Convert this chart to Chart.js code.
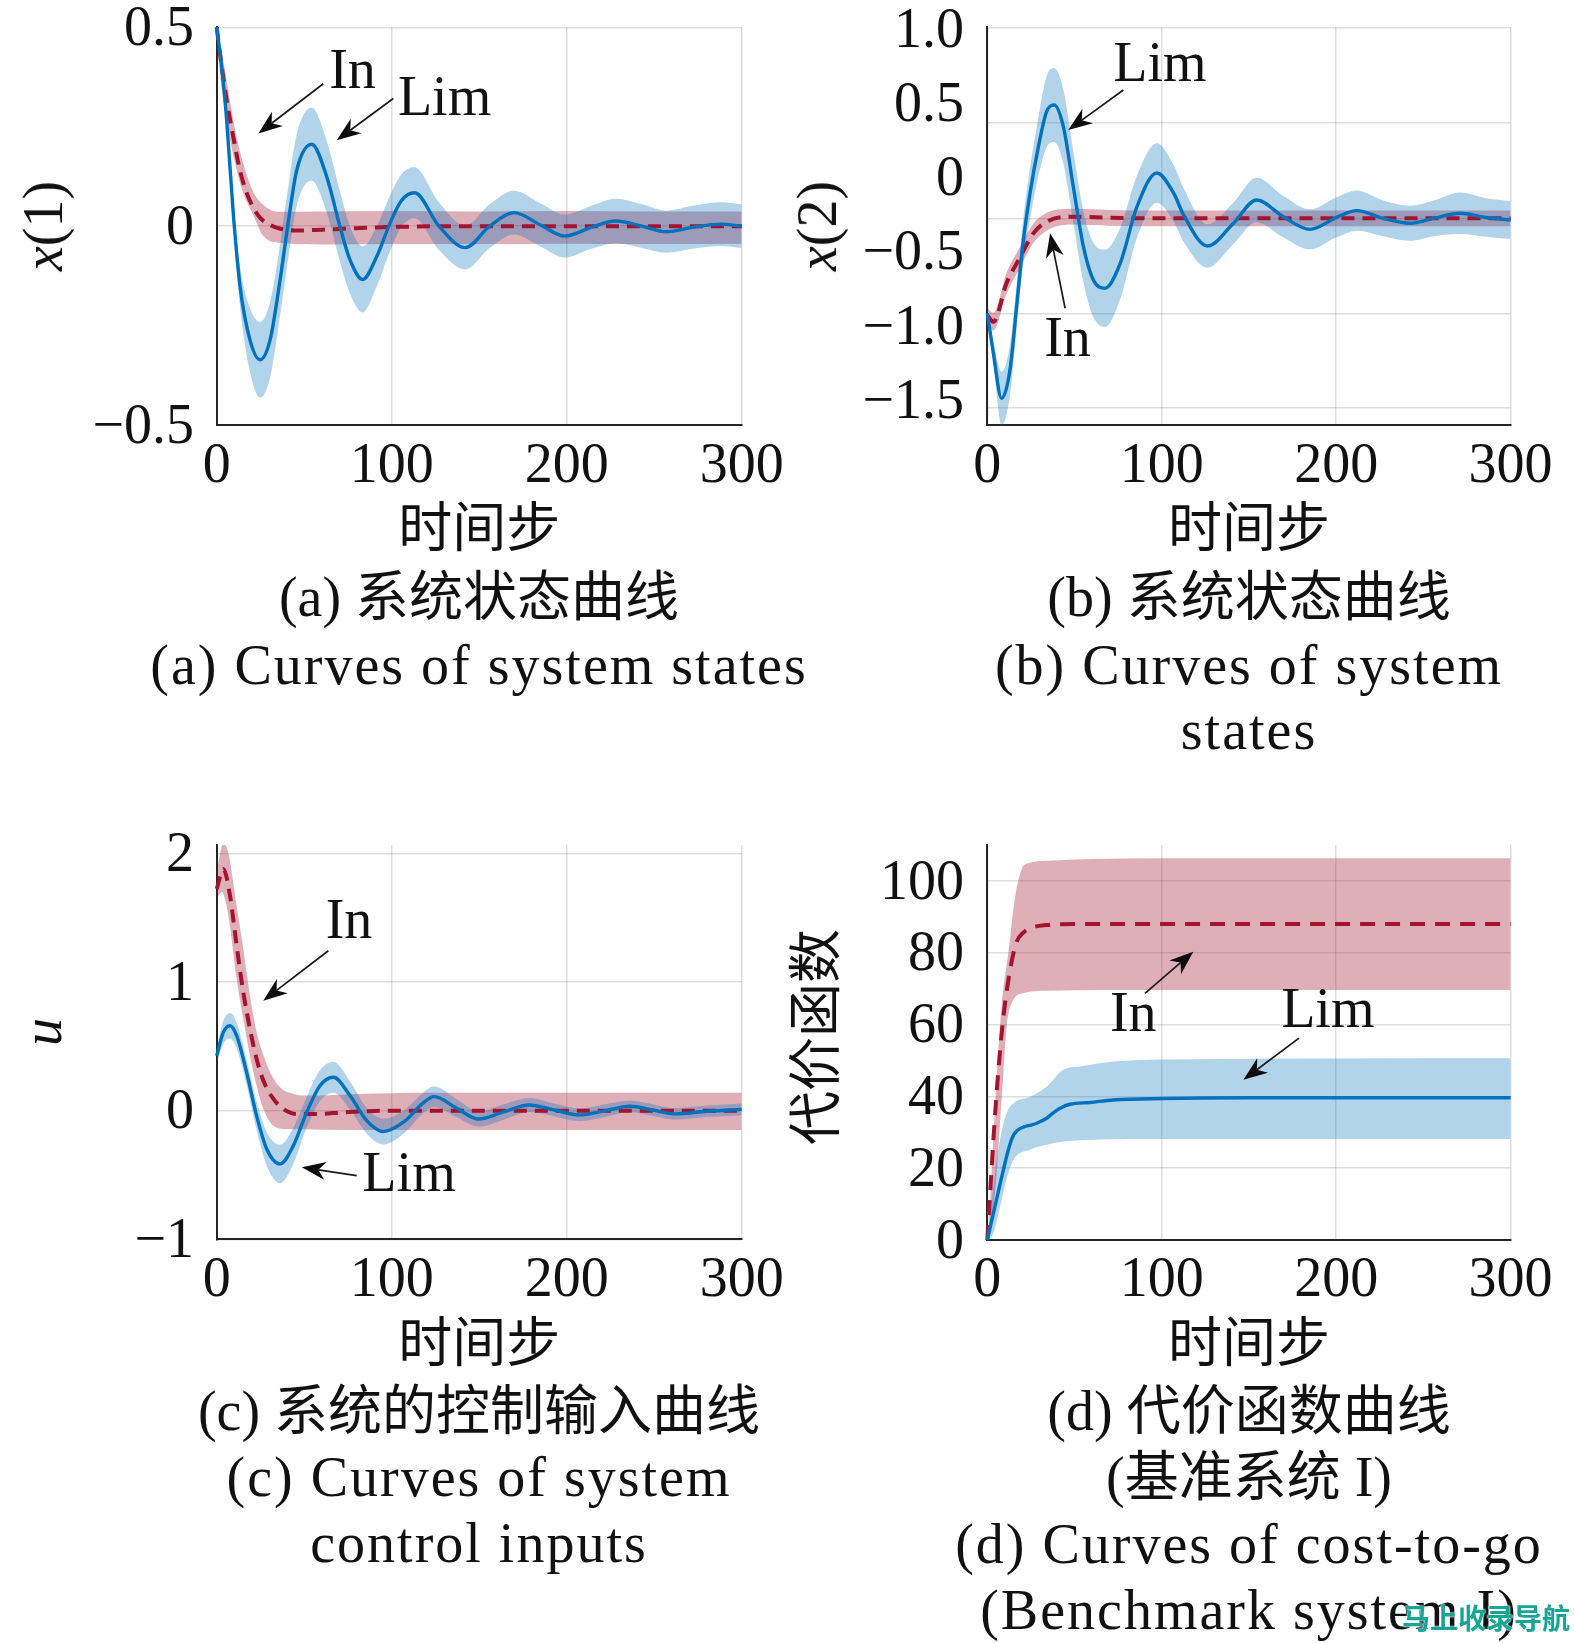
<!DOCTYPE html>
<html>
<head>
<meta charset="utf-8">
<script src="https://cdn.jsdelivr.net/npm/chart.js@4.4.1/dist/chart.umd.min.js"></script>
<style>
html,body{margin:0;padding:0;background:#fff;}
body{width:1575px;height:1643px;position:relative;overflow:hidden;}
.pane{position:absolute;}
.pane canvas{display:block;}
.cap{position:absolute;width:900px;text-align:center;white-space:nowrap;font-family:"Liberation Serif",serif;font-size:56px;line-height:56px;color:#111;}
.zh{font-family:"Noto Sans CJK SC",sans-serif;font-size:54px;}
.en{letter-spacing:2px;}
.ytitle{position:absolute;transform:translate(-50%,-50%) rotate(-90deg);white-space:nowrap;font-family:"Liberation Serif",serif;font-size:56px;line-height:56px;color:#111;}
.ytitle.zhT{font-family:"Noto Sans CJK SC",sans-serif;font-size:54px;}
.wm{position:absolute;left:1402px;top:1600px;font-family:"Noto Sans CJK SC",sans-serif;font-weight:700;font-size:28px;line-height:34px;color:#17a596;text-shadow:0 0 2px #fff,0 0 2px #fff;}
</style>
</head>
<body>
<div class="pane" style="left:0px;top:0px;"><canvas id="ca" width="790" height="570"></canvas></div>
<div class="pane" style="left:790px;top:0px;"><canvas id="cb" width="785" height="570"></canvas></div>
<div class="pane" style="left:0px;top:800px;"><canvas id="cc" width="790" height="580"></canvas></div>
<div class="pane" style="left:790px;top:800px;"><canvas id="cd" width="785" height="580"></canvas></div>

<div class="ytitle" style="left:43px;top:226px;"><i>x</i>(1)</div>
<div class="ytitle" style="left:817px;top:226px;"><i>x</i>(2)</div>
<div class="ytitle" style="left:42px;top:1032px;"><i>u</i></div>
<div class="ytitle zhT" style="left:812px;top:1037px;">代价函数</div>

<div class="cap" style="left:29px;top:565px;">(a) <span class="zh">系统状态曲线</span></div>
<div class="cap en" style="left:29px;top:637px;">(a) Curves of system states</div>
<div class="cap" style="left:799px;top:565px;">(b) <span class="zh">系统状态曲线</span></div>
<div class="cap en" style="left:799px;top:637px;">(b) Curves of system</div>
<div class="cap en" style="left:799px;top:702px;">states</div>

<div class="cap" style="left:29px;top:1379px;">(c) <span class="zh">系统的控制输入曲线</span></div>
<div class="cap en" style="left:29px;top:1449px;">(c) Curves of system</div>
<div class="cap en" style="left:29px;top:1515px;">control inputs</div>
<div class="cap" style="left:799px;top:1379px;">(d) <span class="zh">代价函数曲线</span></div>
<div class="cap" style="left:799px;top:1445px;">(<span class="zh">基准系统</span> I)</div>
<div class="cap en" style="left:799px;top:1516px;">(d) Curves of cost-to-go</div>
<div class="cap en" style="left:799px;top:1582px;">(Benchmark system I)</div>
<div class="wm">马上收录导航</div>

<script>
// ---------- shared axis data ----------
const xTicks = [0, 100, 200, 300];
const xTickLabels = ['0', '100', '200', '300'];
const xTitle = '时间步';

// ---------- panel (a): x(1) ----------
const aYTicks = [-0.5, 0, 0.5];
const aYLabels = ['−0.5', '0', '0.5'];
const aLimSteps = [0, 3, 5.7, 9.5, 13.3, 19, 24.8, 30.5, 36.2, 40, 45.7, 54.3, 62.9, 70.5, 76.2, 83.4, 91.4, 99, 105.7, 113, 127, 142, 156, 170, 185, 199, 214, 228, 243, 257, 272, 288, 300];
const aLimMean = [0.5, 0.395, 0.266, 0.03, -0.15, -0.286, -0.336, -0.286, -0.136, -0.018, 0.14, 0.206, 0.124, -0.002, -0.085, -0.134, -0.077, 0.007, 0.065, 0.084, 0.0, -0.054, 0.0, 0.034, 0.003, -0.025, -0.003, 0.013, 0.0, -0.014, -0.003, 0.005, 0.0];
const aLimUpper = [0.5, 0.405, 0.286, 0.06, -0.10, -0.206, -0.241, -0.191, -0.046, 0.072, 0.23, 0.298, 0.214, 0.086, 0.0, -0.051, -0.002, 0.077, 0.131, 0.148, 0.06, 0.001, 0.055, 0.089, 0.057, 0.029, 0.051, 0.069, 0.055, 0.039, 0.051, 0.06, 0.055];
const aLimLower = [0.5, 0.385, 0.246, 0.0, -0.2, -0.366, -0.431, -0.381, -0.226, -0.108, 0.05, 0.114, 0.034, -0.09, -0.17, -0.217, -0.152, -0.063, -0.001, 0.02, -0.06, -0.109, -0.055, -0.021, -0.051, -0.079, -0.057, -0.043, -0.055, -0.067, -0.057, -0.05, -0.055];
const aInSteps = [0, 2.6, 5.7, 9.5, 13.3, 17, 21, 25, 30.5, 36, 45, 60, 80, 100, 150, 200, 250, 300];
const aInMean = [0.5, 0.41, 0.317, 0.224, 0.14, 0.085, 0.046, 0.02, 0.003, -0.006, -0.011, -0.009, -0.005, -0.002, 0, 0, 0, 0];
const aInUpSteps = [0, 4, 10.4, 15, 21, 28.5, 36, 60, 100, 150, 200, 250, 300];
const aInUpper = [0.5, 0.41, 0.245, 0.16, 0.085, 0.047, 0.036, 0.037, 0.038, 0.037, 0.038, 0.037, 0.037];
const aInLoSteps = [0, 2, 5.7, 10.4, 15, 21, 26.7, 36, 60, 100, 150, 200, 250, 300];
const aInLower = [0.49, 0.38, 0.266, 0.16, 0.085, 0.027, -0.025, -0.042, -0.046, -0.045, -0.045, -0.044, -0.045, -0.044];
const aNotes = [{text: 'In', x: 77.6, y: 0.392}, {text: 'Lim', x: 130.2, y: 0.325}];
const aArrows = [{from: [60.9, 0.358], to: [23.8, 0.233]}, {from: [100.9, 0.321], to: [68.6, 0.216]}];

// ---------- panel (b): x(2) ----------
const bYTicks = [-1.5, -1, -0.5, 0, 0.5, 1];
const bYLabels = ['−1.5', '−1.0', '−0.5', '0', '0.5', '1.0'];
const bGridLines = [-1.552, -0.916, -0.276, 0.369, 1.0115];
const bLimSteps = [0, 3.5, 8.2, 13, 16.8, 20.7, 24.5, 29.3, 34, 38.3, 43.6, 49.3, 55.1, 60.8, 67.5, 76.2, 85.8, 97.2, 107, 112.4, 126.2, 141, 154.4, 169.7, 185, 200.3, 211.8, 227, 242.3, 256, 271, 286, 300];
const bLimMean = [-0.916, -1.185, -1.489, -1.298, -0.871, -0.422, -0.107, 0.207, 0.443, 0.488, 0.342, -0.063, -0.467, -0.691, -0.747, -0.579, -0.197, 0.03, -0.11, -0.25, -0.462, -0.31, -0.152, -0.265, -0.35, -0.269, -0.224, -0.276, -0.309, -0.276, -0.242, -0.27, -0.287];
const bLimUpper = [-0.876, -1.105, -1.309, -1.128, -0.721, -0.272, 0.063, 0.407, 0.683, 0.738, 0.592, 0.177, -0.227, -0.441, -0.487, -0.339, 0.013, 0.23, 0.08, -0.07, -0.316, -0.17, -0.002, -0.125, -0.215, -0.134, -0.089, -0.156, -0.191, -0.156, -0.102, -0.14, -0.159];
const bLimLower = [-0.956, -1.265, -1.669, -1.468, -1.021, -0.572, -0.277, 0.007, 0.203, 0.238, 0.092, -0.303, -0.707, -0.941, -1.007, -0.819, -0.407, -0.17, -0.30, -0.43, -0.608, -0.45, -0.302, -0.405, -0.485, -0.404, -0.359, -0.396, -0.427, -0.396, -0.382, -0.4, -0.415];
const bInSteps = [0, 3.5, 11, 18.7, 26.4, 34, 41.8, 50, 70, 100, 150, 200, 250, 300];
const bInMean = [-0.93, -0.972, -0.714, -0.54, -0.377, -0.299, -0.269, -0.265, -0.272, -0.276, -0.276, -0.276, -0.276, -0.276];
const bInUpper = [-0.88, -0.912, -0.644, -0.47, -0.312, -0.239, -0.214, -0.212, -0.219, -0.223, -0.223, -0.223, -0.223, -0.223];
const bInLower = [-0.98, -1.032, -0.784, -0.61, -0.442, -0.359, -0.324, -0.318, -0.325, -0.329, -0.329, -0.329, -0.329, -0.329];
const bNotes = [{text: 'Lim', x: 99, y: 0.771}, {text: 'In', x: 46, y: -1.084}];
const bArrows = [{from: [78, 0.589], to: [46.4, 0.319]}, {from: [44.6, -0.882], to: [36, -0.377]}];

// ---------- panel (c): u ----------
const cYTicks = [-1, 0, 1, 2];
const cYLabels = ['−1', '0', '1', '2'];
const cLimSteps = [0, 3.8, 7.6, 11.4, 17.1, 22.8, 28.6, 36.2, 43.8, 51.4, 59, 66.7, 76.2, 85.7, 95.2, 106.7, 118, 124.3, 137, 149.7, 164, 178.5, 193, 207.2, 222, 236, 249, 262, 280, 300];
const cLimMean = [0.427, 0.609, 0.66, 0.583, 0.298, -0.039, -0.298, -0.414, -0.272, -0.013, 0.194, 0.26, 0.117, -0.078, -0.163, -0.09, 0.06, 0.109, 0.02, -0.065, -0.01, 0.044, 0.005, -0.033, 0.0, 0.034, 0.005, -0.025, -0.005, 0.01];
const cLimUpper = [0.487, 0.699, 0.76, 0.683, 0.398, 0.071, -0.168, -0.264, -0.132, 0.107, 0.314, 0.38, 0.227, 0.022, -0.063, 0.0, 0.14, 0.189, 0.09, -0.005, 0.05, 0.099, 0.055, 0.017, 0.05, 0.079, 0.05, 0.02, 0.04, 0.055];
const cLimLower = [0.367, 0.519, 0.56, 0.483, 0.198, -0.149, -0.428, -0.564, -0.412, -0.133, 0.074, 0.14, 0.007, -0.178, -0.263, -0.18, -0.02, 0.029, -0.05, -0.125, -0.07, -0.011, -0.045, -0.083, -0.05, -0.011, -0.04, -0.07, -0.05, -0.035];
const cInSteps = [0, 3.8, 7.6, 11.4, 15.2, 19, 22.8, 26.7, 32.4, 38.1, 45.7, 57.1, 72.4, 100, 150, 200, 250, 300];
const cInMean = [1.723, 1.878, 1.671, 1.282, 0.92, 0.635, 0.402, 0.233, 0.091, 0.013, -0.026, -0.026, -0.013, 0, 0, 0, 0, 0];
const cInUpSteps = [0, 3.8, 6.7, 11.4, 15.2, 19, 22.8, 26.7, 30.5, 36.2, 43.8, 53.3, 80, 120, 160, 200, 250, 300];
const cInUpper = [1.86, 2.08, 2.0, 1.59, 1.258, 0.893, 0.609, 0.43, 0.298, 0.181, 0.13, 0.117, 0.13, 0.14, 0.14, 0.14, 0.14, 0.14];
const cInLoSteps = [0, 2.9, 6.7, 11.4, 15.2, 19, 22.8, 26.7, 32.4, 40, 60, 100, 150, 200, 250, 300];
const cInLower = [1.65, 1.70, 1.516, 1.023, 0.712, 0.427, 0.194, 0.013, -0.117, -0.143, -0.148, -0.15, -0.15, -0.15, -0.15, -0.15];
const cNotes = [{text: 'In', x: 75.6, y: 1.48}, {text: 'Lim', x: 109.9, y: -0.484}];
const cArrows = [{from: [63.8, 1.243], to: [26.6, 0.855]}, {from: [80, -0.505], to: [48.6, -0.44]}];

// ---------- panel (d): cost-to-go ----------
const dYTicks = [0, 20, 40, 60, 80, 100];
const dYLabels = ['0', '20', '40', '60', '80', '100'];
const dLimSteps = [0, 4, 8, 12, 14.5, 17, 21, 25, 28.3, 34, 38, 41.7, 47.4, 58.9, 72.3, 100, 150, 300];
const dLimMean = [0, 8.5, 17, 25, 28.7, 30.4, 31.5, 32.0, 32.5, 33.9, 35.5, 36.7, 37.8, 38.3, 39.0, 39.4, 39.6, 39.6];
const dLimUpSteps = [0, 2, 4, 7.3, 11.1, 15, 24.5, 34, 43.6, 53.1, 72.3, 100, 300];
const dLimUpper = [0, 8, 17, 27.9, 35.3, 38.1, 39.9, 42.7, 47.4, 48.3, 49.7, 50.3, 50.6];
const dLimLoSteps = [0, 3.5, 7.3, 11.1, 15, 24.5, 34, 43.6, 62.7, 100, 300];
const dLimLower = [0, 1.9, 9.3, 17, 22.3, 25.1, 26.5, 27.4, 27.9, 28.1, 28.1];
const dInSteps = [0, 1.5, 3.5, 6.3, 9.2, 13, 16.8, 20.7, 24.5, 34, 50, 100, 150, 200, 250, 300];
const dInMean = [0, 12, 28, 47, 62, 75, 83, 85.6, 86.8, 87.7, 88, 88, 88, 88, 88, 88];
const dInUpSteps = [0, 1.5, 4.4, 8.2, 12.1, 15.7, 19.5, 23.3, 34, 60, 100, 300];
const dInUpper = [0, 9, 37, 65, 80, 94.7, 103, 104.9, 105.6, 106.1, 106.3, 106.3];
const dInLoSteps = [0, 1.5, 5.4, 7.3, 9.2, 11.1, 15, 20.7, 34, 100, 300];
const dInLower = [0, 1.9, 18.6, 32.5, 46.4, 59.4, 66.9, 68.7, 69.4, 69.6, 69.6];
const dNotes = [{text: 'In', x: 83.7, y: 63.1}, {text: 'Lim', x: 195.2, y: 64.2}];
const dArrows = [{from: [90.4, 68.7], to: [118.1, 80.3]}, {from: [178.7, 56.2], to: [146.8, 44.6]}];

// ---------- styling ----------
const SERIF = 'Liberation Serif';
const CJK = 'Noto Sans CJK SC';
const BLUE = '#0072BD';
const RED = '#A2142F';
const BLUE_BAND = 'rgba(0,114,189,0.30)';
const RED_BAND = 'rgba(162,20,47,0.34)';
const GRID = 'rgba(0,0,0,0.13)';
const AXIS = '#262626';

function pts(xs, ys) { return xs.map((x, i) => ({x: x, y: ys[i]})); }
function zeroPad(s) { s.paddingLeft = 0; s.paddingRight = 0; s.paddingTop = 0; s.paddingBottom = 0; }

const annotPlugin = {
  id: 'annot',
  afterDatasetsDraw(chart, args, opts) {
    const ctx = chart.ctx, xs = chart.scales.x, ys = chart.scales.y;
    ctx.save();
    (opts.arrows || []).forEach(a => {
      const x1 = xs.getPixelForValue(a.from[0]), y1 = ys.getPixelForValue(a.from[1]);
      const x2 = xs.getPixelForValue(a.to[0]), y2 = ys.getPixelForValue(a.to[1]);
      const ang = Math.atan2(y2 - y1, x2 - x1), c = Math.cos(ang), s = Math.sin(ang);
      const L = 24, W = 9;
      const bx = x2 - L * c, by = y2 - L * s;
      const nx = x2 - 0.7 * L * c, ny = y2 - 0.7 * L * s;
      ctx.strokeStyle = '#1a1a1a'; ctx.lineWidth = 1.7;
      ctx.beginPath(); ctx.moveTo(x1, y1); ctx.lineTo(nx, ny); ctx.stroke();
      ctx.fillStyle = '#0d0d0d';
      ctx.beginPath(); ctx.moveTo(x2, y2);
      ctx.lineTo(bx - W * s, by + W * c); ctx.lineTo(nx, ny); ctx.lineTo(bx + W * s, by - W * c);
      ctx.closePath(); ctx.fill();
    });
    ctx.font = '56px "' + SERIF + '"'; ctx.fillStyle = '#111';
    ctx.textAlign = 'center'; ctx.textBaseline = 'middle';
    (opts.notes || []).forEach(n => {
      ctx.fillText(n.text, xs.getPixelForValue(n.x), ys.getPixelForValue(n.y) + 3);
    });
    ctx.restore();
  }
};

function build(id, W, H, area, p) {
  const scales = {
    x: {
      type: 'linear', position: 'bottom', min: 0, max: 300,
      afterBuildTicks: s => { s.ticks = xTicks.map(v => ({value: v})); },
      afterFit: s => { s.height = H - area.bottom; zeroPad(s); },
      ticks: {font: {family: SERIF, size: 56, lineHeight: 1}, color: '#111', padding: p.xTickPad, maxRotation: 0, autoSkip: false,
              callback: (v, i) => xTickLabels[i]},
      grid: {color: GRID, lineWidth: 1.5, drawTicks: false},
      border: {color: AXIS, width: 2},
      title: {display: true, text: xTitle, color: '#111', font: {family: CJK, size: 54, lineHeight: 1.2}, padding: {top: 0, bottom: p.titlePad}}
    },
    y: {
      type: 'linear', position: 'left', min: p.yMin, max: p.yMax,
      afterBuildTicks: s => { s.ticks = p.yTicks.map(v => ({value: v})); },
      afterFit: s => { s.width = area.left; zeroPad(s); },
      ticks: {font: {family: SERIF, size: 56, lineHeight: 1}, color: '#111', padding: p.yTickPad, labelOffset: 3,
              callback: (v, i) => p.yLabels[i]},
      grid: {display: !p.gridLines, color: GRID, lineWidth: 1.5, drawTicks: false},
      border: {color: AXIS, width: 2}
    }
  };
  if (p.gridLines) {
    scales.y2 = {
      type: 'linear', position: 'right', min: p.yMin, max: p.yMax,
      afterBuildTicks: s => { s.ticks = p.gridLines.map(v => ({value: v})); },
      afterFit: s => { s.width = 0; zeroPad(s); },
      ticks: {display: false},
      grid: {color: GRID, lineWidth: 1.5, drawTicks: false},
      border: {display: false}
    };
  }
  const lineCommon = {pointRadius: 0, cubicInterpolationMode: 'monotone', parsing: false};
  const datasets = [
    Object.assign({label: 'Lim', data: pts(p.limX, p.limMean), borderColor: BLUE, borderWidth: 3.4, fill: false, order: 0, clip: 4}, lineCommon),
    Object.assign({label: 'In', data: pts(p.inX, p.inMean), borderColor: RED, borderWidth: 4, borderDash: p.dash, fill: false, order: 1, clip: 4}, lineCommon),
    Object.assign({label: 'Lim upper', data: pts(p.limUpX, p.limUp), borderWidth: 0, borderColor: 'rgba(0,0,0,0)', backgroundColor: BLUE_BAND, fill: '+1', order: 2}, lineCommon),
    Object.assign({label: 'Lim lower', data: pts(p.limLoX, p.limLo), borderWidth: 0, borderColor: 'rgba(0,0,0,0)', fill: false, order: 3}, lineCommon),
    Object.assign({label: 'In upper', data: pts(p.inUpX, p.inUp), borderWidth: 0, borderColor: 'rgba(0,0,0,0)', backgroundColor: RED_BAND, fill: '+1', order: 4}, lineCommon),
    Object.assign({label: 'In lower', data: pts(p.inLoX, p.inLo), borderWidth: 0, borderColor: 'rgba(0,0,0,0)', fill: false, order: 5}, lineCommon)
  ];
  return new Chart(document.getElementById(id), {
    type: 'line',
    data: {datasets: datasets},
    options: {
      responsive: false, animation: false, devicePixelRatio: 1,
      layout: {padding: {left: 0, top: area.top, right: W - area.right, bottom: 0}},
      scales: scales,
      plugins: {legend: {display: false}, tooltip: {enabled: false}, annot: {notes: p.notes, arrows: p.arrows}}
    },
    plugins: [annotPlugin]
  });
}

build('ca', 790, 570, {left: 216.7, right: 741.7, top: 27.3, bottom: 425}, {
  yMin: -0.5, yMax: 0.5, yTicks: aYTicks, yLabels: aYLabels, xTickPad: 14, yTickPad: 22.7, titlePad: 11.6, dash: [13, 8],
  limX: aLimSteps, limMean: aLimMean, limUpX: aLimSteps, limUp: aLimUpper, limLoX: aLimSteps, limLo: aLimLower,
  inX: aInSteps, inMean: aInMean, inUpX: aInUpSteps, inUp: aInUpper, inLoX: aInLoSteps, inLo: aInLower,
  notes: aNotes, arrows: aArrows
});
build('cb', 785, 570, {left: 197.3, right: 720.6, top: 27.3, bottom: 425}, {
  yMin: -1.6685, yMax: 1.0115, yTicks: bYTicks, yLabels: bYLabels, gridLines: bGridLines, xTickPad: 14, yTickPad: 23.3, titlePad: 11.6, dash: [13, 8],
  limX: bLimSteps, limMean: bLimMean, limUpX: bLimSteps, limUp: bLimUpper, limLoX: bLimSteps, limLo: bLimLower,
  inX: bInSteps, inMean: bInMean, inUpX: bInSteps, inUp: bInUpper, inLoX: bInSteps, inLo: bInLower,
  notes: bNotes, arrows: bArrows
});
build('cc', 790, 580, {left: 216.7, right: 741.7, top: 45, bottom: 439.3}, {
  yMin: -1, yMax: 2.065, yTicks: cYTicks, yLabels: cYLabels, xTickPad: 13.7, yTickPad: 22.7, titlePad: 6.6, dash: [13, 8],
  limX: cLimSteps, limMean: cLimMean, limUpX: cLimSteps, limUp: cLimUpper, limLoX: cLimSteps, limLo: cLimLower,
  inX: cInSteps, inMean: cInMean, inUpX: cInUpSteps, inUp: cInUpper, inLoX: cInLoSteps, inLo: cInLower,
  notes: cNotes, arrows: cArrows
});
build('cd', 785, 580, {left: 197.3, right: 720.6, top: 45, bottom: 440}, {
  yMin: 0, yMax: 110, yTicks: dYTicks, yLabels: dYLabels, xTickPad: 13, yTickPad: 23.3, titlePad: 6.6, dash: [15, 10],
  limX: dLimSteps, limMean: dLimMean, limUpX: dLimUpSteps, limUp: dLimUpper, limLoX: dLimLoSteps, limLo: dLimLower,
  inX: dInSteps, inMean: dInMean, inUpX: dInUpSteps, inUp: dInUpper, inLoX: dInLoSteps, inLo: dInLower,
  notes: dNotes, arrows: dArrows
});
</script>
</body>
</html>
